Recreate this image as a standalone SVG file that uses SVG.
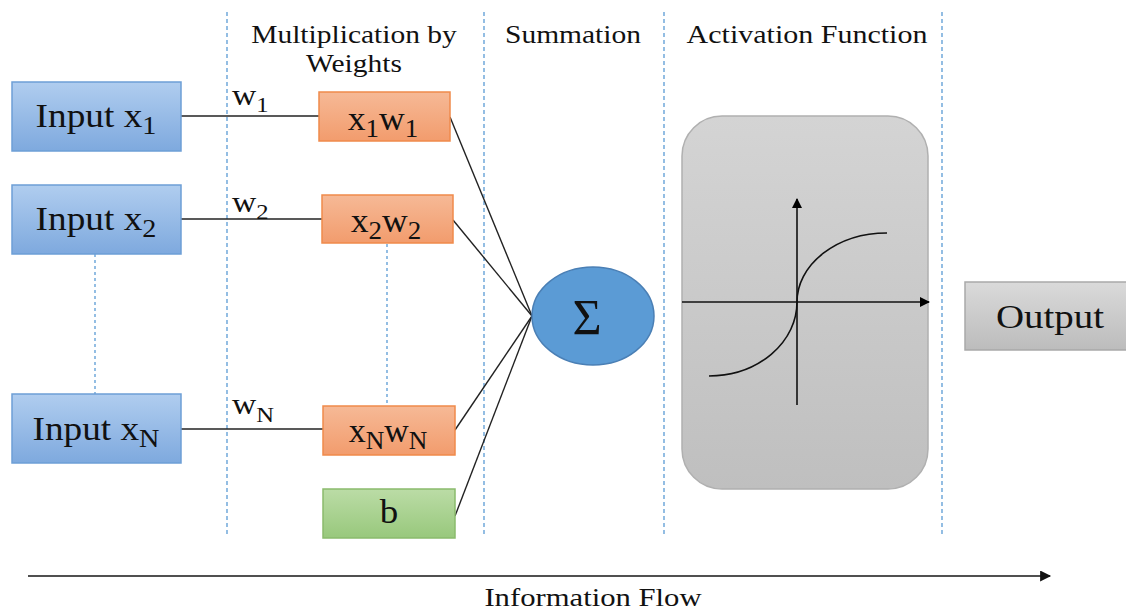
<svg xmlns="http://www.w3.org/2000/svg" width="1126" height="612" viewBox="0 0 1126 612">
  <defs>
    <linearGradient id="gBlue" x1="0" y1="0" x2="0" y2="1">
      <stop offset="0" stop-color="#b0cdef"/>
      <stop offset="1" stop-color="#7ea9de"/>
    </linearGradient>
    <linearGradient id="gOrange" x1="0" y1="0" x2="0" y2="1">
      <stop offset="0" stop-color="#f6b996"/>
      <stop offset="1" stop-color="#f29c6d"/>
    </linearGradient>
    <linearGradient id="gGreen" x1="0" y1="0" x2="0" y2="1">
      <stop offset="0" stop-color="#bbdca6"/>
      <stop offset="1" stop-color="#98c87c"/>
    </linearGradient>
    <linearGradient id="gGray" x1="0" y1="0" x2="0" y2="1">
      <stop offset="0" stop-color="#d4d4d4"/>
      <stop offset="1" stop-color="#bfbfbf"/>
    </linearGradient>
    <linearGradient id="gGrayOut" x1="0" y1="0" x2="0" y2="1">
      <stop offset="0" stop-color="#dadada"/>
      <stop offset="1" stop-color="#bcbcbc"/>
    </linearGradient>
    <marker id="arrow" viewBox="0 0 10 10" refX="9" refY="5" markerWidth="10" markerHeight="10" markerUnits="userSpaceOnUse" orient="auto">
      <path d="M0,0 L10,5 L0,10 Z" fill="#000"/>
    </marker>
    <marker id="arrowFlow" viewBox="0 0 10 10" refX="9" refY="5" markerWidth="12" markerHeight="11" markerUnits="userSpaceOnUse" orient="auto">
      <path d="M0,0 L10,5 L0,10 Z" fill="#111"/>
    </marker>
  </defs>
  <style>
    text { font-family: "Liberation Serif", "Times New Roman", serif; fill: #111; }
    .hdr { font-size: 25px; text-anchor: middle; }
    .lbl { font-size: 33px; text-anchor: middle; }
    .wt { font-size: 30px; }
    .sub { font-size: 25px; }
    .wsub { font-size: 22px; }
    .sep { stroke: #5b9bd5; stroke-width: 1.3; stroke-dasharray: 4 3; fill: none; }
    .dots { stroke: #5b9bd5; stroke-width: 1.3; stroke-dasharray: 3 3; fill: none; }
    .wire { stroke: #222; stroke-width: 1.4; fill: none; }
    .input { fill: url(#gBlue); stroke: #6d9fd6; stroke-width: 1.5; }
    .prod { fill: url(#gOrange); stroke: #f08a4b; stroke-width: 1.5; }
    .bias { fill: url(#gGreen); stroke: #8abb6c; stroke-width: 1.5; }
    .axis { stroke: #111; stroke-width: 1.6; fill: none; }
  </style>

  <!-- column separators -->
  <g id="separators">
    <line class="sep" x1="227" y1="12" x2="227" y2="535"/>
    <line class="sep" x1="484" y1="12" x2="484" y2="535"/>
    <line class="sep" x1="664" y1="12" x2="664" y2="535"/>
    <line class="sep" x1="942" y1="12" x2="942" y2="535"/>
  </g>

  <!-- column headers -->
  <g id="headers">
    <text class="hdr" transform="translate(354,43) scale(1.18,1)">Multiplication by</text>
    <text class="hdr" transform="translate(354,72) scale(1.18,1)">Weights</text>
    <text class="hdr" transform="translate(573,43) scale(1.18,1)">Summation</text>
    <text class="hdr" transform="translate(807,43) scale(1.2,1)">Activation Function</text>
  </g>

  <!-- connectors -->
  <g id="connectors">
    <line class="wire" x1="181" y1="116" x2="319" y2="116"/>
    <line class="wire" x1="181" y1="219" x2="322" y2="219"/>
    <line class="wire" x1="181" y1="429" x2="323" y2="429"/>
    <line class="wire" x1="450" y1="117" x2="532" y2="316"/>
    <line class="wire" x1="453" y1="220" x2="532" y2="316"/>
    <line class="wire" x1="455" y1="430" x2="532" y2="316"/>
    <line class="wire" x1="455" y1="516" x2="532" y2="316"/>
    <line class="dots" x1="95" y1="254" x2="95" y2="394"/>
    <line class="dots" x1="387" y1="244" x2="387" y2="406"/>
  </g>

  <!-- weight labels -->
  <g id="weights">
    <text class="wt" transform="translate(232,105) scale(1.12,1)">w<tspan class="wsub" dy="7">1</tspan></text>
    <text class="wt" transform="translate(232,212) scale(1.12,1)">w<tspan class="wsub" dy="7">2</tspan></text>
    <text class="wt" transform="translate(232,414) scale(1.12,1)">w<tspan class="wsub" dy="8">N</tspan></text>
  </g>

  <!-- inputs -->
  <g id="input-x1">
    <rect class="input" x="12" y="82" width="169" height="69"/>
    <text class="lbl" transform="translate(96,127) scale(1.13,1)">Input x<tspan class="sub" dy="7">1</tspan></text>
  </g>
  <g id="input-x2">
    <rect class="input" x="12" y="185" width="169" height="69"/>
    <text class="lbl" transform="translate(96,230) scale(1.13,1)">Input x<tspan class="sub" dy="7">2</tspan></text>
  </g>
  <g id="input-xn">
    <rect class="input" x="12" y="394" width="169" height="69"/>
    <text class="lbl" transform="translate(96,440) scale(1.13,1)">Input x<tspan class="sub" dy="7">N</tspan></text>
  </g>

  <!-- weighted products -->
  <g id="prod-1">
    <rect class="prod" x="319" y="92" width="131" height="49"/>
    <text class="lbl" transform="translate(383,130) scale(1.08,1)">x<tspan class="sub" dy="7">1</tspan><tspan dy="-7">w</tspan><tspan class="sub" dy="7">1</tspan></text>
  </g>
  <g id="prod-2">
    <rect class="prod" x="322" y="195" width="131" height="48"/>
    <text class="lbl" transform="translate(386,232) scale(1.08,1)">x<tspan class="sub" dy="7">2</tspan><tspan dy="-7">w</tspan><tspan class="sub" dy="7">2</tspan></text>
  </g>
  <g id="prod-n">
    <rect class="prod" x="323" y="406" width="132" height="49"/>
    <text class="lbl" transform="translate(388,442) scale(1.03,1)">x<tspan class="sub" dy="7">N</tspan><tspan dy="-7">w</tspan><tspan class="sub" dy="7">N</tspan></text>
  </g>

  <!-- bias -->
  <g id="bias">
    <rect class="bias" x="323" y="489" width="132" height="49"/>
    <text class="lbl" transform="translate(389,523) scale(1.12,1)">b</text>
  </g>

  <!-- summation node -->
  <g id="sum">
    <ellipse cx="593" cy="316" rx="61" ry="49" fill="#5b9bd5" stroke="#4a7fb5" stroke-width="1.5"/>
    <text x="587" y="334" font-size="50" text-anchor="middle">Σ</text>
  </g>

  <!-- activation function -->
  <g id="activation">
    <rect x="682" y="116" width="246" height="373" rx="40" ry="40" fill="url(#gGray)" stroke="#b0b0b0" stroke-width="1.5"/>
    <line class="axis" x1="797" y1="405" x2="797" y2="199" marker-end="url(#arrow)"/>
    <line class="axis" x1="682" y1="302" x2="929" y2="302" marker-end="url(#arrow)"/>
    <path class="axis" d="M709,376 A88,74 0 0 0 797,302 A90,69 0 0 1 887,233"/>
  </g>

  <!-- output -->
  <g id="output">
    <rect x="965" y="282" width="170" height="68" fill="url(#gGrayOut)" stroke="#a9a9a9" stroke-width="1.5"/>
    <text class="lbl" transform="translate(1050,328) scale(1.18,1)">Output</text>
  </g>

  <!-- information flow -->
  <g id="flow">
    <line x1="28" y1="576" x2="1050" y2="576" stroke="#505050" stroke-width="2.2" marker-end="url(#arrowFlow)"/>
    <text x="0" y="0" font-size="26" text-anchor="middle" transform="translate(593,606) scale(1.18,1)">Information Flow</text>
  </g>
</svg>
